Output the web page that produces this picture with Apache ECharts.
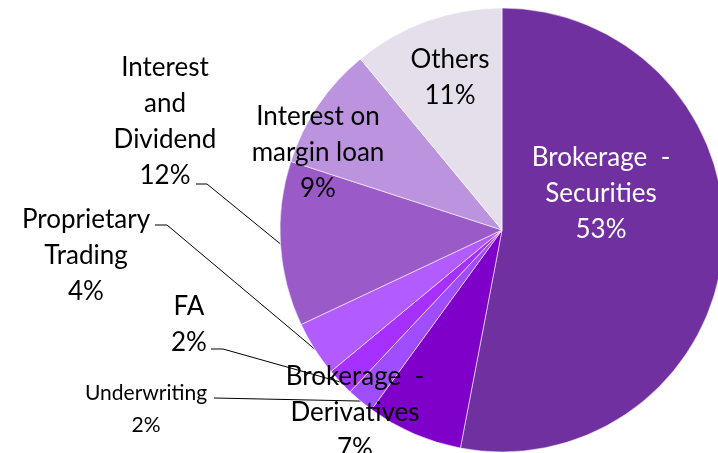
<!DOCTYPE html>
<html>
<head>
<meta charset="utf-8">
<script src="https://cdn.jsdelivr.net/npm/echarts@6/dist/echarts.min.js"></script>
<style>
  html, body { margin: 0; background: #fff; }
  #revenue-mix { width: 718px; height: 453px; }
</style>
</head>
<body>
<div id="revenue-mix"></div>
<script>
    // revenue mix, % of total, clockwise from 12 o'clock
    const revenueData = [
        { name: 'Brokerage  -\nSecurities', value: 53, color: '#7030A0', labelPos: [601, 194], labelColor: '#fff' },
        { name: 'Brokerage  -\nDerivatives', value: 7, color: '#7F00C8', labelPos: [355, 413] },
        { name: 'Underwriting', value: 2, color: '#A04DFF', labelPos: [146, 409], small: true, line: [[214, 398], [214, 398]] },
        { name: 'FA', value: 2, color: '#A530FF', labelPos: [189, 325], line: [[223, 349], [211, 349]] },
        { name: 'Proprietary\nTrading', value: 4, color: '#B25CFF', labelPos: [86, 256], line: [[167, 225], [155, 225]] },
        { name: 'Interest\nand\nDividend', value: 12, color: '#9A5AC8', labelPos: [165, 122], line: [[207, 184], [196, 184]] },
        { name: 'Interest on\nmargin loan', value: 9, color: '#BC93DE', labelPos: [318, 153] },
        { name: 'Others', value: 11, color: '#E5DFEC', labelPos: [450, 78] }
    ];

    const revenueChart = echarts.init(document.getElementById('revenue-mix'));

    const pieOption = {
        textStyle: { fontFamily: 'Lato' },
        series: [
            {
                type: 'pie',
                center: [502, 230],
                radius: 222,
                startAngle: 90,
                clockwise: true,
                avoidLabelOverlap: false,
                animation: false,
                itemStyle: { borderColor: 'rgba(255,255,255,0.7)', borderWidth: 0.8 },
                label: {
                    show: true,
                    position: 'outside',
                    color: '#000',
                    fontFamily: 'Lato',
                    fontSize: 26,
                    lineHeight: 36,
                    formatter: (p) => p.name + '\n' + p.value + '%'
                },
                labelLine: {
                    show: true,
                    length: 20,
                    length2: 10,
                    lineStyle: { color: '#000', width: 1 }
                },
                labelLayout: (params) => {
                    const item = revenueData[params.dataIndex];
                    const layout = {
                        x: item.labelPos[0],
                        y: item.labelPos[1],
                        align: 'center',
                        verticalAlign: 'middle'
                    };
                    if (item.line && params.labelLinePoints) {
                        layout.labelLinePoints = [params.labelLinePoints[0], item.line[0], item.line[1]];
                    }
                    return layout;
                },
                data: revenueData.map((d) => ({
                    name: d.name,
                    value: d.value,
                    itemStyle: { color: d.color },
                    label: Object.assign(
                        { color: d.labelColor || '#000' },
                        d.small ? { fontSize: 21, lineHeight: 32 } : {}
                    ),
                    labelLine: { show: !!d.line }
                }))
            }
        ]
    };

    revenueChart && revenueChart.setOption(pieOption);
</script>
</body>
</html>
